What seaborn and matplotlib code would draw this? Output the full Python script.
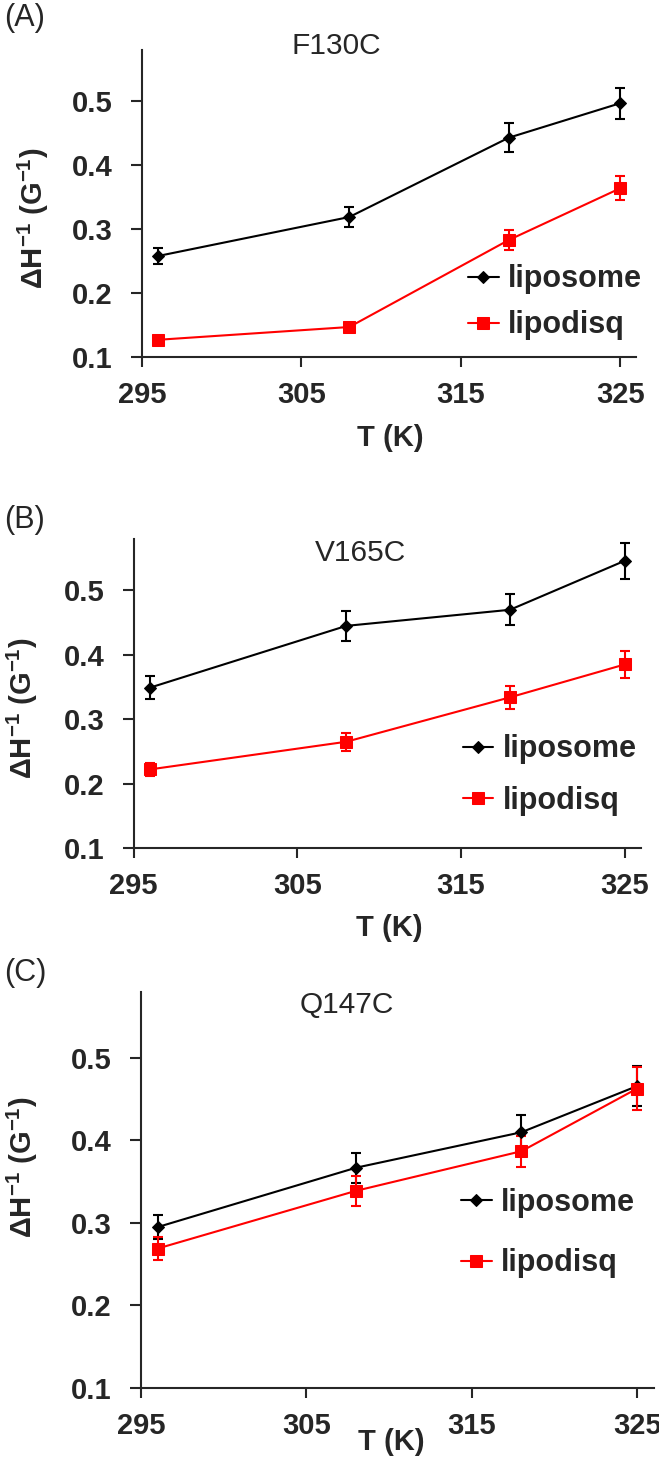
import matplotlib
matplotlib.use("Agg")
import matplotlib.pyplot as plt
import seaborn as sns
import numpy as np
import pandas as pd

# ---------------- data ----------------
temps = [296, 308, 318, 325]
series_names = ["liposome", "lipodisq"]
panel_letters = ["(A)", "(B)", "(C)"]
mutants = ["F130C", "V165C", "Q147C"]

f130c_liposome = [0.258, 0.319, 0.443, 0.497]
f130c_liposome_err = [0.013, 0.016, 0.023, 0.024]
f130c_lipodisq = [0.127, 0.147, 0.283, 0.364]
f130c_lipodisq_err = [0.004, 0.005, 0.015, 0.019]

v165c_liposome = [0.349, 0.445, 0.470, 0.546]
v165c_liposome_err = [0.018, 0.023, 0.024, 0.028]
v165c_lipodisq = [0.222, 0.265, 0.334, 0.385]
v165c_lipodisq_err = [0.010, 0.014, 0.018, 0.021]

q147c_liposome = [0.295, 0.367, 0.410, 0.466]
q147c_liposome_err = [0.015, 0.018, 0.021, 0.024]
q147c_lipodisq = [0.269, 0.339, 0.387, 0.463]
q147c_lipodisq_err = [0.014, 0.018, 0.019, 0.026]

x_ticks = [295, 305, 315, 325]
y_ticks = [0.1, 0.2, 0.3, 0.4, 0.5]

# ---------------- style ----------------
sns.set_style("ticks")
plt.rcParams["font.family"] = ["Liberation Sans", "DejaVu Sans"]
plt.rcParams["mathtext.fontset"] = "custom"
plt.rcParams["mathtext.default"] = "regular"
plt.rcParams["axes.linewidth"] = 1.5

FS = 21
colors = {"liposome": "black", "lipodisq": "#ff0000"}
markers = {"liposome": "D", "lipodisq": "s"}
msizes = {"liposome": 6.5, "lipodisq": 8}

fig = plt.figure(figsize=(6.59, 14.61), dpi=100)

# axes rectangles (figure fraction)
rects = [
    [0.2155, 0.7556, 0.750, 0.2101],
    [0.2026, 0.4196, 0.770, 0.2115],
    [0.2140, 0.0500, 0.778, 0.2710],
]
panel_data = [
    (f130c_liposome, f130c_liposome_err, f130c_lipodisq, f130c_lipodisq_err),
    (v165c_liposome, v165c_liposome_err, v165c_lipodisq, v165c_lipodisq_err),
    (q147c_liposome, q147c_liposome_err, q147c_lipodisq, q147c_lipodisq_err),
]
title_pos = [(0.394, 1.013), (0.447, 0.955), (0.402, 0.967)]
xlabel_pos = [(0.502, -0.264), (0.505, -0.259), (0.489, -0.136)]
ylabel_px = [33, 22, 22]
ylabel_pos = [(0.453), (0.453), (0.558)]
legend_anchor = [(0.66, 0.178), (0.649, 0.236), (0.624, 0.391)]
legend_spacing = [0.52, 0.69, 1.0]
panel_label_y = [18, 520, 973]

for i, rect in enumerate(rects):
    ax = fig.add_axes(rect)
    lipo, lipo_e, disq, disq_e = panel_data[i]
    df = pd.DataFrame({
        "T": temps * 2,
        "val": lipo + disq,
        "err": lipo_e + disq_e,
        "series": ["liposome"] * len(temps) + ["lipodisq"] * len(temps),
    })
    for name in series_names:
        sub = df[df["series"] == name]
        ax.errorbar(sub["T"], sub["val"], yerr=sub["err"], fmt="none",
                    ecolor=colors[name], elinewidth=1.5, capsize=3.7,
                    capthick=1.5, zorder=2)
        sns.lineplot(data=sub, x="T", y="val", ax=ax, color=colors[name],
                     marker=markers[name], markersize=msizes[name],
                     markeredgecolor=colors[name], markerfacecolor=colors[name],
                     linewidth=1.5, label=name, zorder=3)

    ax.set_xlim(295, 326)
    ax.set_ylim(0.1, 0.58)
    ax.set_xticks(x_ticks)
    ax.set_yticks(y_ticks)
    ax.set_xticklabels([str(t) for t in x_ticks])
    ax.set_yticklabels([f"{t:.1f}" for t in y_ticks])
    for lab in ax.get_xticklabels() + ax.get_yticklabels():
        lab.set_fontweight("bold")
        lab.set_fontsize(FS)
    ax.tick_params(axis="x", direction="out", length=7, width=1.5, pad=10)
    ax.tick_params(axis="y", direction="out", length=8, width=1.5, pad=13)
    sns.despine(ax=ax)
    ax.set_xlabel("")
    ax.set_ylabel("")

    ax.text(title_pos[i][0], title_pos[i][1], mutants[i], transform=ax.transAxes,
            ha="center", va="center", fontsize=21.5, fontweight="normal")
    ax.text(xlabel_pos[i][0], xlabel_pos[i][1], "T (K)", transform=ax.transAxes,
            ha="center", va="center", fontsize=FS, fontweight="bold")
    fig.text(ylabel_px[i] / 659, rect[1] + rect[3] * ylabel_pos[i],
             r"ΔH$^{-1}$ (G$^{-1}$)", ha="center", va="center", rotation=90,
             fontsize=FS, fontweight="bold")

    ax.legend(loc="center left", bbox_to_anchor=legend_anchor[i],
              frameon=False, borderpad=0, borderaxespad=0,
              handlelength=1.0, handletextpad=0.3,
              labelspacing=legend_spacing[i], numpoints=1,
              prop={"size": 22, "weight": "bold"})

    fig.text(4 / 659, 1 - panel_label_y[i] / 1461, panel_letters[i],
             ha="left", va="center", fontsize=22, fontweight="normal")

fig.savefig("out.png", dpi=100)
